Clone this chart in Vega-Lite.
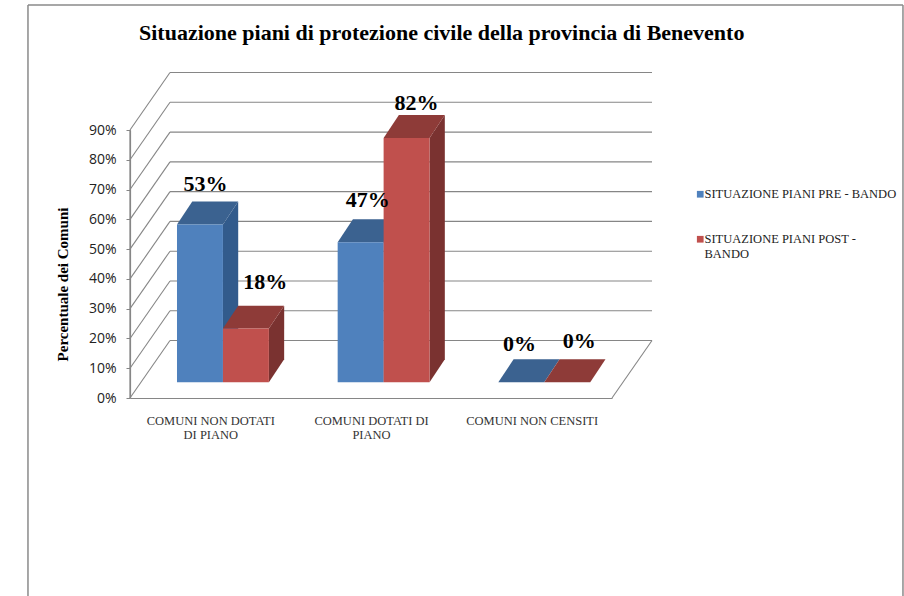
{
"$schema":"https://vega.github.io/schema/vega-lite/v6.json",
"width":482,"height":268,"autosize":"none",
"padding":{"left":130,"top":130,"right":292,"bottom":198},
"background":"#ffffff",
"config":{"view":{"stroke":null},"font":"Liberation Serif"},
"title":{"text":"Situazione piani di protezione civile della provincia di Benevento","font":"Liberation Serif","fontSize":22,"fontWeight":"bold","color":"#000000","anchor":"start","frame":"group","dx":9,"offset":-41},
"resolve":{"axis":{"x":"independent","y":"independent"}},
"datasets":{
"valori":[
{"categoria":"COMUNI NON DOTATI DI PIANO","serie":"SITUAZIONE PIANI PRE - BANDO","valore":53},
{"categoria":"COMUNI NON DOTATI DI PIANO","serie":"SITUAZIONE PIANI POST - BANDO","valore":18},
{"categoria":"COMUNI DOTATI DI PIANO","serie":"SITUAZIONE PIANI PRE - BANDO","valore":47},
{"categoria":"COMUNI DOTATI DI PIANO","serie":"SITUAZIONE PIANI POST - BANDO","valore":82},
{"categoria":"COMUNI NON CENSITI","serie":"SITUAZIONE PIANI PRE - BANDO","valore":0},
{"categoria":"COMUNI NON CENSITI","serie":"SITUAZIONE PIANI POST - BANDO","valore":0}
],
"griglia":[{"pct":0},{"pct":10},{"pct":20},{"pct":30},{"pct":40},{"pct":50},{"pct":60},{"pct":70},{"pct":80},{"pct":90}]
},
"data":{"name":"valori"},
"transform":[
{"calculate":"indexof(['COMUNI NON DOTATI DI PIANO','COMUNI DOTATI DI PIANO','COMUNI NON CENSITI'],datum.categoria)","as":"ci"},
{"calculate":"datum.serie==='SITUAZIONE PIANI PRE - BANDO'?0:1","as":"si"},
{"calculate":"datum.ci+0.2925+datum.si*0.286","as":"x0"},
{"calculate":"datum.x0+0.286","as":"x1"},
{"calculate":"datum.valore+5.3","as":"ytop"},
{"calculate":"(datum.x0+datum.x1)/2+[0.034,0.121,0.045,0.062,-0.012,0.075][datum.ci*2+datum.si]","as":"lx"},
{"calculate":"datum.ytop+[13.6,15.7,14.2,11.8,12.9,13.9][datum.ci*2+datum.si]","as":"ly"},
{"calculate":"datum.valore+'%'","as":"etichetta"}
],
"layer":[
{"data":{"values":[{}]},"mark":{"type":"rule","color":"#8a8a8a","strokeWidth":1.5},"encoding":{"x":{"datum":-0.635,"type":"quantitative","axis":null},"y":{"datum":132,"type":"quantitative","axis":null},"y2":{"datum":-66.5}}},
{"data":{"values":[{}]},"mark":{"type":"rule","color":"#8a8a8a","strokeWidth":1.5},"encoding":{"x":{"datum":4.811,"type":"quantitative","axis":null},"y":{"datum":132,"type":"quantitative","axis":null},"y2":{"datum":-66.5}}},
{"data":{"values":[{}]},"mark":{"type":"rule","color":"#8a8a8a","strokeWidth":1.5},"encoding":{"y":{"datum":132,"type":"quantitative","axis":null},"x":{"datum":-0.635,"type":"quantitative","axis":null},"x2":{"datum":4.811}}},
{"data":{"values":[{}]},"mark":{"type":"rule","color":"#868686","strokeWidth":1.2},"encoding":{"x":{"datum":0,"type":"quantitative","axis":null},"y":{"datum":0,"type":"quantitative","axis":null},"y2":{"datum":90}}},
{"data":{"name":"griglia"},"transform":[{"calculate":"datum.pct+19.3","as":"pb"},{"calculate":"0.249","as":"xa"},{"calculate":"3.249","as":"xb"},{"calculate":"0","as":"xz"}],
 "mark":{"type":"rule","color":"#868686","strokeWidth":1.1},"encoding":{"x":{"field":"xz","type":"quantitative","axis":null},"x2":{"field":"xa"},"y":{"field":"pct","type":"quantitative","axis":null},"y2":{"field":"pb"}}},
{"data":{"name":"griglia"},"transform":[{"calculate":"datum.pct+19.3","as":"pb"},{"calculate":"0.249","as":"xa"},{"calculate":"3.249","as":"xb"}],
 "mark":{"type":"rule","color":"#868686","strokeWidth":1.1},"encoding":{"x":{"field":"xa","type":"quantitative","axis":null},"x2":{"field":"xb"},"y":{"field":"pb","type":"quantitative","axis":null}}},
{"data":{"values":[{}]},"mark":{"type":"rule","color":"#868686","strokeWidth":1.1},"encoding":{"x":{"datum":3,"type":"quantitative","axis":null},"x2":{"datum":3.249},"y":{"datum":0,"type":"quantitative","axis":null},"y2":{"datum":19.3}}},
{"transform":[{"filter":"datum.si===0"},{"calculate":"[0,1]","as":"k"},{"flatten":["k"]},{"calculate":"datum.x1+datum.k*0.095","as":"ax"},{"calculate":"5.3+datum.k*7.7","as":"ay"},{"calculate":"datum.ytop+datum.k*7.7","as":"ay2"}],
 "mark":{"type":"area","color":"#325b8c","opacity":1},"encoding":{"x":{"field":"ax","type":"quantitative","axis":null},"y":{"field":"ay","type":"quantitative","axis":null},"y2":{"field":"ay2"},"detail":{"field":"categoria"}}},
{"transform":[{"filter":"datum.si===0"},{"calculate":"[0,1,2,3]","as":"k"},{"flatten":["k"]},{"calculate":"(datum.k<2?datum.x0:datum.x1)+(datum.k%2)*0.095","as":"ax"},{"calculate":"datum.ytop+(datum.k>0?7.7:0)","as":"ay"},{"calculate":"datum.ytop+(datum.k===3?7.7:0)","as":"ay2"}],
 "mark":{"type":"area","color":"#3b6290","opacity":1},"encoding":{"x":{"field":"ax","type":"quantitative","axis":null},"y":{"field":"ay","type":"quantitative","axis":null},"y2":{"field":"ay2"},"detail":{"field":"categoria"}}},
{"transform":[{"filter":"datum.si===1"},{"calculate":"[0,1]","as":"k"},{"flatten":["k"]},{"calculate":"datum.x1+datum.k*0.095","as":"ax"},{"calculate":"5.3+datum.k*7.7","as":"ay"},{"calculate":"datum.ytop+datum.k*7.7","as":"ay2"}],
 "mark":{"type":"area","color":"#7a3230","opacity":1},"encoding":{"x":{"field":"ax","type":"quantitative","axis":null},"y":{"field":"ay","type":"quantitative","axis":null},"y2":{"field":"ay2"},"detail":{"field":"categoria"}}},
{"transform":[{"filter":"datum.si===1"},{"calculate":"[0,1,2,3]","as":"k"},{"flatten":["k"]},{"calculate":"(datum.k<2?datum.x0:datum.x1)+(datum.k%2)*0.095","as":"ax"},{"calculate":"datum.ytop+(datum.k>0?7.7:0)","as":"ay"},{"calculate":"datum.ytop+(datum.k===3?7.7:0)","as":"ay2"}],
 "mark":{"type":"area","color":"#8e3b38","opacity":1},"encoding":{"x":{"field":"ax","type":"quantitative","axis":null},"y":{"field":"ay","type":"quantitative","axis":null},"y2":{"field":"ay2"},"detail":{"field":"categoria"}}},
{"transform":[{"calculate":"5.3","as":"ybase"}],
 "mark":{"type":"rect"},
 "encoding":{
  "x":{"field":"x0","type":"quantitative","scale":{"domain":[0,3],"nice":false,"zero":false},
    "axis":{"title":null,"values":[0.5,1.5,2.5],"ticks":false,"grid":false,"domain":true,"domainColor":"#868686","domainWidth":1.2,"labelFont":"Liberation Serif","labelFontSize":12.5,"labelColor":"#333333","labelPadding":16,"labelLineHeight":14,"labelAngle":0,"labelBaseline":"top","labelOverlap":false,"labelExpr":"datum.value<1?['COMUNI NON DOTATI','DI PIANO']:datum.value<2?['COMUNI DOTATI DI','PIANO']:'COMUNI NON CENSITI'"}},
  "x2":{"field":"x1"},
  "y":{"field":"ytop","type":"quantitative","scale":{"domain":[0,90],"nice":false,"zero":false},
    "axis":{"title":"Percentuale dei Comuni","titleFont":"Liberation Serif","titleFontSize":15,"titleFontWeight":"bold","titleColor":"#000000","titleX":-60,"titleY":154,"values":[0,10,20,30,40,50,60,70,80,90],"grid":false,"domain":true,"ticks":true,"tickSize":4,"tickColor":"#868686","domainColor":"#868686","domainWidth":1.2,"labelFont":"Open Sans","labelFontSize":14,"labelColor":"#222222","labelPadding":10,"labelOverlap":false,"labelExpr":"datum.value+'%'"}},
  "y2":{"field":"ybase"},
  "color":{"field":"serie","type":"nominal","scale":{"domain":["SITUAZIONE PIANI PRE - BANDO","SITUAZIONE PIANI POST - BANDO"],"range":["#4f81bd","#c0504d"]},
    "legend":{"title":null,"orient":"none","legendX":564,"legendY":58,"symbolType":"square","symbolSize":45,"labelFont":"Liberation Serif","labelFontSize":12.5,"labelColor":"#222222","labelLimit":300,"rowPadding":32,"labelOffset":-2,"symbolStrokeWidth":0,"labelExpr":"datum.label==='SITUAZIONE PIANI POST - BANDO'?['SITUAZIONE PIANI POST -','BANDO']:datum.label"}}
 }},
{"mark":{"type":"text","font":"Liberation Serif","fontSize":22,"fontWeight":"bold","color":"#000000","baseline":"middle","align":"center"},
 "encoding":{"x":{"field":"lx","type":"quantitative","axis":null},"y":{"field":"ly","type":"quantitative","axis":null},"text":{"field":"etichetta"}}}
]
}
